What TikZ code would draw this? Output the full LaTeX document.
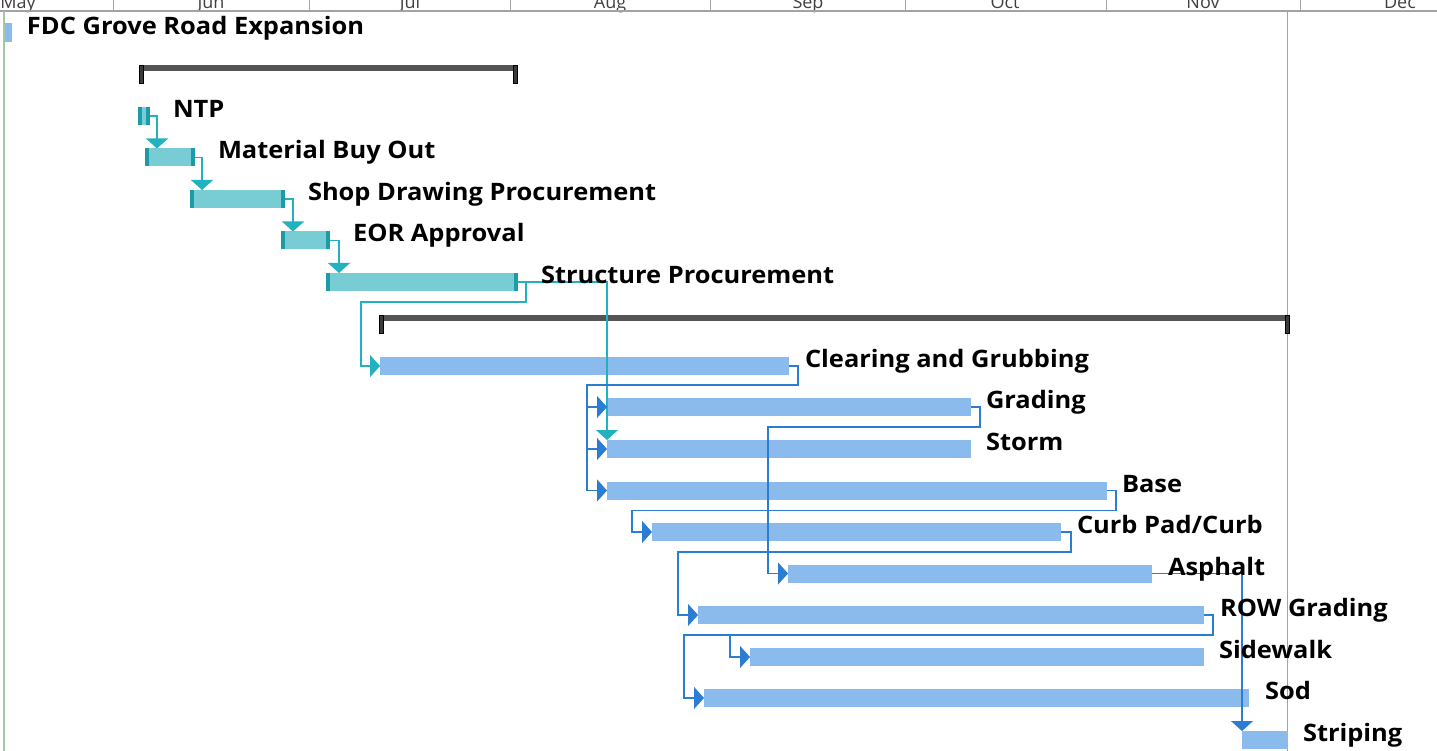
\documentclass[tikz,border=0pt]{standalone}
\usepackage{fontspec}
\setmainfont{Open Sans}
\newfontfamily\taskfont{Open Sans}[FakeStretch=1.06]
\usetikzlibrary{arrows.meta}

\definecolor{tealbar}{HTML}{78CDD5}
\definecolor{tealcap}{HTML}{1D9BA6}
\definecolor{tealline}{HTML}{22B1BE}
\definecolor{bluebar}{HTML}{8BBBEC}
\definecolor{blueline}{HTML}{2B7CD3}
\definecolor{sumgray}{HTML}{545454}
\definecolor{capgray}{HTML}{3A3A3A}
\definecolor{gridgray}{HTML}{A3A3A3}
\definecolor{leftgreen}{HTML}{A6C6A6}
\definecolor{monthgray}{HTML}{404040}

\begin{document}
\begin{tikzpicture}[x=1pt,y=-1pt,
  tbar/.style={fill=tealbar, draw=none, minimum height=18pt, inner sep=0pt, outer sep=0pt, anchor=west,
    path picture={
      \fill[tealcap] (path picture bounding box.north west) rectangle ([xshift=4pt]path picture bounding box.south west);
      \fill[tealcap] ([xshift=-4pt]path picture bounding box.north east) rectangle (path picture bounding box.south east);
    }},
  bbar/.style={fill=bluebar, draw=none, minimum height=18pt, inner sep=0pt, outer sep=0pt, anchor=west},
  sumbar/.style={fill=sumgray, draw=none, minimum height=6pt, inner sep=0pt, outer sep=0pt, anchor=north west},
  sumcap/.style={fill=capgray, draw=black, line width=0.5pt},
  tlink/.style={draw=tealline, line width=1.2pt, -{Triangle[width=22pt,length=10pt]}},
  blink/.style={draw=blueline, line width=1.2pt, -{Triangle[width=22pt,length=10pt]}},
  lbl/.style={font=\taskfont\bfseries\fontsize{24}{28}\selectfont, anchor=base west, inner sep=0pt, outer sep=0pt, yshift=-1.5pt},
  month/.style={font=\fontsize{18}{20}\selectfont, text=monthgray, anchor=base, inner sep=0pt},
  grid/.style={draw=gridgray, line width=1pt}
]
\useasboundingbox (0,0) rectangle (1437,751);
\clip (0,0) rectangle (1437,751);

% timescale header
\node[month] (mmay) at (18,9) {May};
\node[month] (mjun) at (211,9) {Jun};
\node[month] (mjul) at (410,9) {Jul};
\node[month] (maug) at (610,9) {Aug};
\node[month] (msep) at (808,9) {Sep};
\node[month] (moct) at (1005,9) {Oct};
\node[month] (mnov) at (1203,9) {Nov};
\node[month] (mdec) at (1400,9) {Dec};
\foreach \gx in {113,309,510,710,905,1106,1300}
  \draw[grid] (\gx,0) -- (\gx,11);
\draw[grid, line width=1.3pt] (0,11) -- (1437,11);
\draw[draw=leftgreen, line width=1.2pt] (4,11) -- (4,751);
\draw[grid] (1287,11) -- (1287,751);

% project summary marker
\node[fill=bluebar, minimum width=7pt, minimum height=19pt, inner sep=0pt, outer sep=0pt, anchor=north west] (proj) at (5,23) {};

% summary brackets
\node[sumbar, minimum width=378pt] (sum1) at (139,65) {};
\fill[sumcap] (sum1.north west) rectangle ++(4,18);
\fill[sumcap] ([xshift=-4pt]sum1.north east) rectangle ++(4,18);
\node[sumbar, minimum width=910pt] (sum2) at (379,315) {};
\fill[sumcap] (sum2.north west) rectangle ++(4,18);
\fill[sumcap] ([xshift=-4pt]sum2.north east) rectangle ++(4,18);

% procurement tasks
\node[tbar, minimum width=12pt]  (ntp) at (138,116) {};
\node[tbar, minimum width=50pt]  (mbo) at (145,157.5) {};
\node[tbar, minimum width=95pt]  (shp) at (190,199) {};
\node[tbar, minimum width=49pt]  (eor) at (281,240.5) {};
\node[tbar, minimum width=192pt] (str) at (326,282) {};

% construction tasks
\node[bbar, minimum width=409pt] (clr) at (380,366) {};
\node[bbar, minimum width=364pt] (grd) at (607,407) {};
\node[bbar, minimum width=364pt] (stm) at (607,449) {};
\node[bbar, minimum width=500pt] (bas) at (607,490.5) {};
\node[bbar, minimum width=409pt] (crb) at (652,532) {};
\node[bbar, minimum width=364pt] (asp) at (788,573.5) {};
\node[bbar, minimum width=506pt] (row) at (698,615) {};
\node[bbar, minimum width=454pt] (sdw) at (750,657) {};
\node[bbar, minimum width=545pt] (sod) at (704,698) {};
\node[bbar, minimum width=46pt]  (stp) at (1242,740) {};

% procurement links
\draw[tlink] (ntp.east) -| ([xshift=12pt]mbo.north west);
\draw[tlink] (mbo.east) -| ([xshift=12pt]shp.north west);
\draw[tlink] (shp.east) -| ([xshift=12pt]eor.north west);
\draw[tlink] (eor.east) -| ([xshift=13pt]str.north west);
\draw[tlink] (str.east) -- ++(8,0) -- ++(0,20) -| ([xshift=-19pt]clr.west) -- (clr.west);
\draw[tlink] (str.east) -| (stm.north west);

% construction links
\draw[blink] (clr.east) -- ++(9,0) -- ++(0,19) -| ([xshift=-20pt]grd.west) -- (grd.west);
\draw[blink] (clr.east) -- ++(9,0) -- ++(0,19) -| ([xshift=-20pt]stm.west) -- (stm.west);
\draw[blink] (clr.east) -- ++(9,0) -- ++(0,19) -| ([xshift=-20pt]bas.west) -- (bas.west);
\draw[blink] (grd.east) -- ++(9,0) -- ++(0,20) -| ([xshift=-20pt]asp.west) -- (asp.west);
\draw[blink] (bas.east) -- ++(9,0) -- ++(0,20) -| ([xshift=-20pt]crb.west) -- (crb.west);
\draw[blink] (crb.east) -- ++(10,0) -- ++(0,20) -| ([xshift=-20pt]row.west) -- (row.west);
\draw[blink] (row.east) -- ++(9,0) -- ++(0,20) -| ([xshift=-20pt]sdw.west) -- (sdw.west);
\draw[blink] (row.east) -- ++(9,0) -- ++(0,20) -| ([xshift=-20pt]sod.west) -- (sod.west);
\draw[blink] (asp.east) -| (stp.north west);

% task names
\node[lbl] (tproj) at (27,33) {FDC Grove Road Expansion};
\node[lbl] (tntp) at ([xshift=23pt]ntp.east) {NTP};
\node[lbl] (tmbo) at ([xshift=23pt]mbo.east) {Material Buy Out};
\node[lbl] (tshp) at ([xshift=23pt]shp.east) {Shop Drawing Procurement};
\node[lbl] (teor) at ([xshift=23pt]eor.east) {EOR Approval};
\node[lbl] (tstr) at ([xshift=23pt]str.east) {Structure Procurement};
\node[lbl] (tclr) at ([xshift=16pt]clr.east) {Clearing and Grubbing};
\node[lbl] (tgrd) at ([xshift=15pt]grd.east) {Grading};
\node[lbl] (tstm) at ([xshift=15pt]stm.east) {Storm};
\node[lbl] (tbas) at ([xshift=15pt]bas.east) {Base};
\node[lbl] (tcrb) at ([xshift=16pt]crb.east) {Curb Pad/Curb};
\node[lbl] (tasp) at ([xshift=16pt]asp.east) {Asphalt};
\node[lbl] (trow) at ([xshift=16pt]row.east) {ROW Grading};
\node[lbl] (tsdw) at ([xshift=15pt]sdw.east) {Sidewalk};
\node[lbl] (tsod) at ([xshift=16pt]sod.east) {Sod};
\node[lbl] (tstp) at ([xshift=15pt]stp.east) {Striping};
\end{tikzpicture}
\end{document}
